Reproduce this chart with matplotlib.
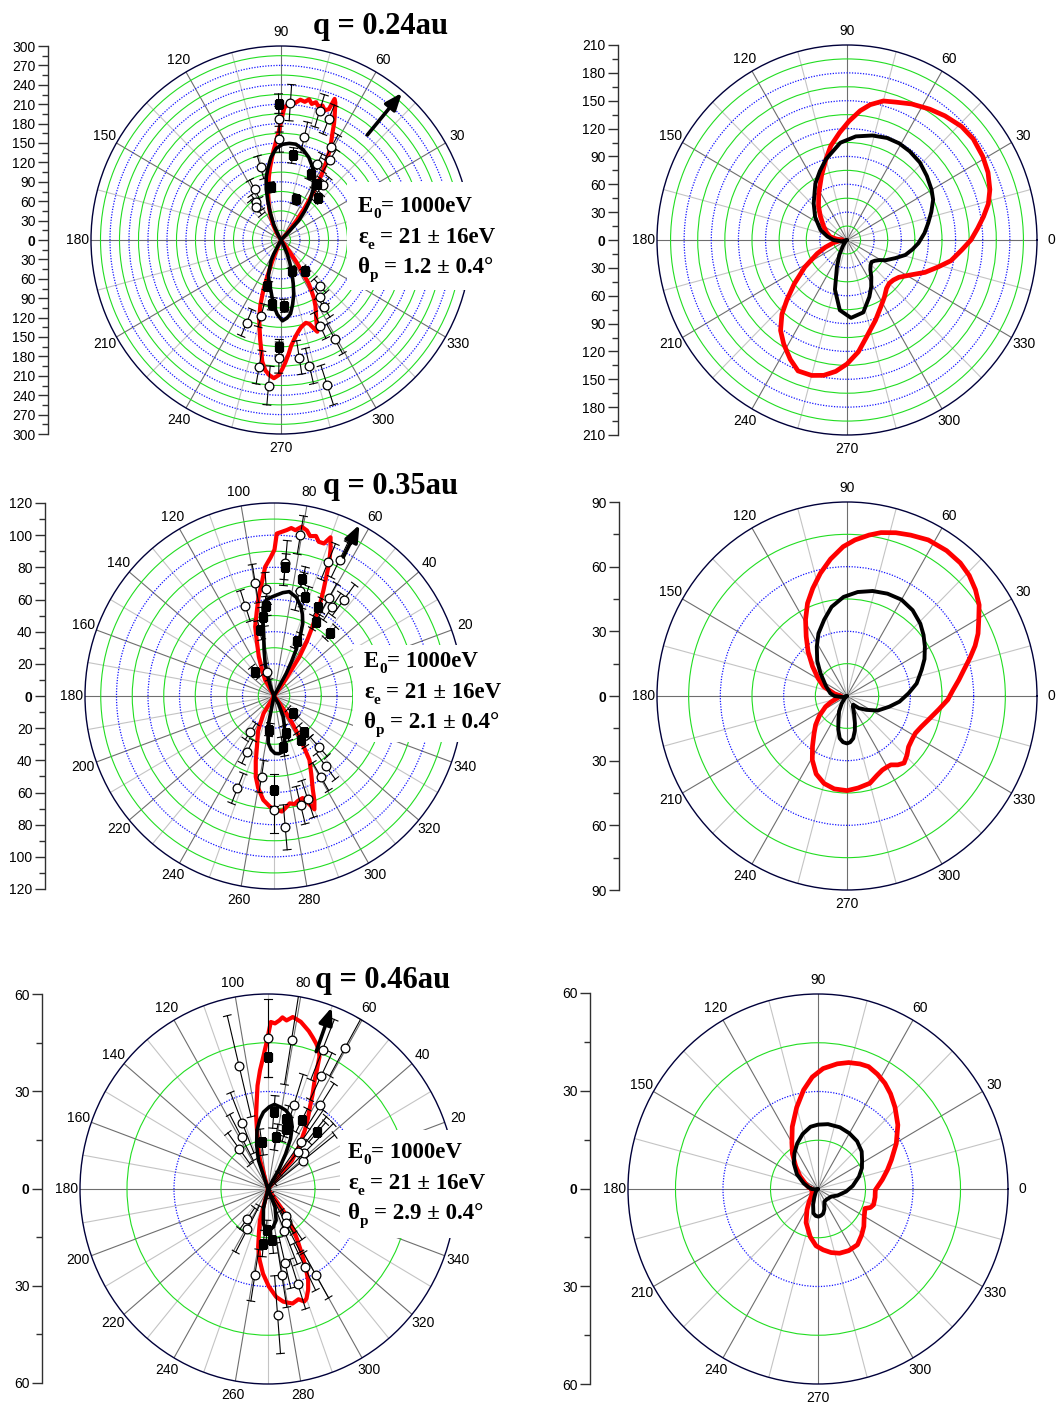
import numpy as np
import matplotlib
matplotlib.use("Agg")
import matplotlib.pyplot as plt
from matplotlib.patches import Rectangle

# ---- q = 0.24 au : measured (left) ----
a_red_th = [-118, -115, -113, -111, -110, -108, -106, -104, -102, -100.5, -99, -97, -95, -93, -91, -89.5, -88, -86,
            -84.5, -83, -81, -79, -77, -75, -73, -71, -69.5, -68, -67, -65.5, -64, -62, -60, -58.5, -57, -56, -54.5,
            -53, -51, -49,
            45, 47, 49, 51, 53, 55, 56.5, 58, 59.5, 61, 62.5, 64, 65, 66, 67, 68, 68.8, 69.5, 71, 72.5, 74, 75.5, 77,
            78.5, 80, 82, 84, 86, 87.5, 88.5, 89.5, 91, 93, 95, 97, 99, 101, 103, 105.5, 108, 111, 114, 118, 122, 126]
a_red_r = [0, 12, 35, 60, 80, 105, 125, 140, 158, 172, 190, 203, 210, 214, 209, 200, 190, 176, 165, 158, 150, 144, 139,
           136, 134, 137, 145, 153, 145, 134, 126, 116, 104, 92, 80, 62, 42, 22, 5, 0,
           0, 8, 22, 40, 62, 85, 105, 125, 142, 158, 172, 186, 198, 208, 218, 229, 234, 216, 212, 218, 215, 220, 216,
           222, 217, 219, 213, 214, 208, 205, 190, 170, 152, 138, 124, 112, 100, 88, 76, 64, 52, 40, 27, 13, 0]
a_blk_th = [-125, -118, -116, -110, -105, -101.5, -97, -93, -89, -85.5, -82.5, -79.5, -76.5, -74, -71.5, -68.5, -65.5,
            -62, -60,
            44, 46, 47, 50, 53, 57, 62, 66.5, 71, 76, 81, 85, 89, 93, 97, 100.5, 103.5, 106.5, 109, 112, 116, 120, 124]
a_blk_r = [0, 25, 36, 58, 72, 80, 100, 115, 125, 121, 115, 101, 86, 70, 55, 38, 24, 8, 0,
           0, 20, 41, 58, 76, 93, 110, 124, 135, 144, 150, 150, 148, 142, 129, 113, 100, 82, 64, 45, 25, 8, 0]
a_open_th = [91, 86, 73, 68, 77, 91, 61, 58, 64, 52, 106, 118, 124, 128,
             -113, -105, -100, -95, -91, -81, -77, -72, -65, -61, -57, -55, -49]
a_open_r = [187, 213, 209, 201, 163, 156, 164, 145, 130, 107, 117, 89, 70, 64,
            139, 121, 200, 226, 182, 184, 200, 236, 146, 175, 124, 108, 94]
a_open_err = [20, 28, 26, 24, 24, 20, 22, 20, 18, 16, 18, 16, 14, 14,
              22, 18, 26, 30, 24, 26, 28, 32, 22, 26, 18, 16, 14]
a_sq_th = [91, 82, 65, 57, 70, 101, 48, -98, -87, -70, -51, -91, -107]
a_sq_r = [211, 132, 113, 104, 67, 83, 88, 100, 102, 51, 61, 166, 74]
a_sq_err = [15, 12, 10, 10, 8, 8, 8, 10, 10, 6, 6, 12, 8]

# ---- q = 0.24 au : theory (right) ----
b_blk_th = [-150, -135, -126, -118, -111, -104, -96, -87, -77, -68, -62, -56, -51, -46, -41, -36, -31, -27, -20, -14,
            -8, -2.5, 5, 11.5, 18, 24.5, 30, 38, 46, 54, 61, 68, 76, 85, 94, 105, 112, 120, 133, 145,
            160, 170, 180, 195, 210]
b_blk_r = [0, 2, 7, 18, 31, 55, 76, 84, 80, 66, 57, 48, 41, 37.5, 36, 38, 42, 48, 57, 66.5,
           73, 79, 86, 91.6, 98, 104.6, 108, 112, 116, 118, 119, 118.5, 116, 112, 105, 90, 80, 70, 54, 43,
           31, 22, 15, 6, 0]
b_red_th = [-180, -169, -162, -156, -148, -141, -136, -132, -127, -122, -116, -111, -105, -100, -95, -90, -84, -78.5,
            -70, -62.5, -56, -50, -45, -40, -35, -28, -22, -16, -11, -5, 0, 5, 9.5, 14, 19, 25, 31, 38, 44, 51,
            57, 64, 70, 75, 80, 84, 89, 94, 100, 105, 112, 122, 131, 139, 150, 160, 169, 175, 180]
b_red_r = [5, 15, 25, 36, 55, 75, 92, 107.5, 122, 132, 143, 151, 151, 148, 142, 133.5, 121, 107,
           92, 81, 74, 68, 66, 67, 70, 80, 93, 105, 117, 127, 137, 145, 153, 161, 167, 172, 175, 177, 176, 172,
           168, 163, 158, 155, 148, 140, 128, 116, 103, 90, 75, 59, 48, 39, 30, 24, 19, 12, 5]

# ---- q = 0.35 au : measured ----
c_red_th = [-125, -121.5, -115, -109, -106, -103, -100, -96, -92, -88.5, -86, -84, -81.5, -79, -77, -74, -72, -70,
            -68.5, -67, -64, -60.5, -57.5, -55.5, -54, -51, -48,
            50, 53.5, 56.5, 58.5, 60.5, 62.5, 64.5, 66, 67, 68.5, 70, 71.5, 73.5, 75, 77, 78.5, 80.5, 82.5, 84, 85.5,
            87.5, 89, 89.8, 91.5, 94, 96.5, 99, 102, 105.5, 108, 111.5, 115, 119.5, 124]
c_red_r = [0, 12.7, 24, 33.3, 42, 51.5, 58, 65, 69, 71, 72, 70, 67.5, 68.5, 67, 66, 70, 75,
           70, 63, 54, 45.7, 30, 20, 13.3, 4, 0,
           0, 9.8, 29.3, 40, 49.6, 62, 73, 82, 89.5, 98, 105, 100, 100, 103, 102, 105, 106.7, 104, 105, 103.5,
           102, 101, 91, 86, 80.5, 70, 62.5, 53, 44.7, 35, 26.3, 18, 11.4, 0]
c_blk_th = [-110, -101.5, -99, -97, -93, -89, -85, -80.5, -77.5, -75, -70, -65.5, -60, -55,
            57, 61, 62.5, 64, 66, 68, 70.5, 73, 77, 81.5, 85, 88.5, 91.5, 94.5, 96.5, 98.5, 100, 102.5, 105.5, 108,
            112, 116]
c_blk_r = [0, 17.4, 24, 29.6, 33.5, 35.7, 36, 35.1, 31, 26.2, 19, 14.1, 6, 0,
           0, 16, 24, 32, 41, 48.7, 54, 58.2, 63, 65.6, 64.5, 62.8, 61.5, 60, 58, 48, 37.5, 29, 21, 13, 5, 0]
c_open_th = [80.5, 85, 67.6, 63.8, 99.6, 94.2, 108, 76, 60.3, 56.4, 53.5, 107,
             -124, -116, -99, -112, -90, -85, -76, -71.5, -48, -53, -59.4]
c_open_r = [101.5, 83, 90.4, 94.3, 71, 67, 59, 67, 70.4, 66.7, 74.2, 15.8,
            26.7, 38.6, 50.7, 62, 71, 82, 70, 67.5, 42.6, 54.8, 58.3]
c_open_err = [12, 14, 12, 12, 12, 10, 10, 12, 10, 10, 12, 5,
              6, 8, 10, 10, 14, 14, 12, 12, 8, 10, 10]
c_sq_th = [85, 76, 72, 95, 98, 102.5, 63.4, 60, 47.7, 66.8, 128, -90, -79.6, -71.3, -57.8, -49, -97.8, -42]
c_sq_r = [80.7, 74.7, 64.6, 56.2, 49.8, 42, 61.7, 53.3, 53.3, 37.4, 19.2, 58.5, 32, 24.5, 32.3, 29.4, 21.3, 16.2]
c_sq_err = [8, 8, 7, 6, 6, 6, 6, 5, 5, 5, 4, 10, 6, 5, 5, 5, 4, 4]

# ---- q = 0.35 au : theory ----
d_blk_th = [-150, -135, -126, -118, -110, -105, -100, -95, -90, -86, -81.5, -77, -73.5, -68, -60, -54, -45, -35, -25,
            -14, -6, 2.5, 10, 19, 25, 32, 38, 44, 52, 60, 68, 76, 84, 92, 100, 107, 115, 122, 131, 140,
            155, 171, 180, 195, 210]
d_blk_r = [0, 1.5, 4.2, 8, 11.8, 16, 19.9, 21.5, 22, 21.5, 19.9, 16.5, 13.2, 9, 5.5, 5, 8, 11.2, 16,
           20.6, 25, 29.2, 33.5, 37.4, 40.5, 43.5, 46, 48.3, 50.5, 51.6, 51.2, 50.2, 48.5, 46, 42, 37, 32, 27, 21.5,
           16.4, 11, 8, 6, 2, 0]
d_red_th = [-180, -167, -160, -154, -145, -138, -132, -125, -119, -112, -105, -98, -90, -83, -75, -69, -64, -60, -57,
            -53, -49, -44, -39, -33, -28, -22, -16, -8, -2, 3, 8, 12.5, 17, 21, 25, 29.5, 34, 39, 44, 49,
            55, 62, 68, 73, 78, 82, 87, 91.5, 97, 102.5, 108, 113.5, 119, 125, 132, 140, 149, 158.5, 170, 180]
d_red_r = [3, 5, 8, 11.3, 16, 20, 23.3, 28.5, 33.9, 39, 42, 43.5, 43.9, 43, 41.9, 39.5, 38.2, 38, 38.1,
           40, 41.2, 39.5, 37.5, 36.8, 36.7, 38, 40.1, 44, 47.8, 50.2, 53.5, 56.8, 61, 65, 68.5, 71.7, 75.5, 78.3,
           80.5, 81.8, 82.3, 82, 80.5, 79.2, 77.5, 75.4, 72.5, 69.3, 64, 58.3, 52.5, 46.9, 40.5, 33.7, 27.5, 21.3,
           16, 11.8, 6, 3]

# ---- q = 0.46 au : measured ----
e_red_th = [-112, -105, -102, -100, -97, -93.5, -89.5, -85.5, -82, -77.5, -74, -71.5, -70, -67.5, -65.5, -63.5, -61.5,
            -59, -56.5, -54, -51,
            44, 49, 53, 57, 59.5, 62, 64, 66, 67, 68, 69, 71, 73, 75, 76.5, 78.5, 80, 81.5, 83.5, 85, 86, 87.5, 89,
            89.8, 90.7, 92, 94, 96, 97.5, 99.5, 101, 104, 106, 111]
e_red_r = [0, 10, 14, 18.1, 22, 26.1, 30, 33.3, 35, 36.1, 35.3, 36.5, 35.9, 33.5, 30.9, 27, 22.6, 18, 14, 8, 0,
           0, 11.7, 16.5, 21.6, 25, 28.5, 32.5, 36.6, 40, 43.8, 45.5, 47.3, 48.8, 50.3, 51.2, 52.5, 53, 53.5, 52.2,
           53, 52, 51, 51.4, 48, 44.7, 41, 36.6, 32, 27.5, 23, 18.4, 13, 9.2, 0]
e_blk_th = [-112, -104, -98, -92, -87.5, -82, -75, -68, -60,
            57, 60, 62.5, 65, 68, 72, 77, 81, 85.5, 89, 93.5, 97, 101, 105, 109, 115]
e_blk_r = [0, 6, 10.8, 12.5, 12.7, 11.8, 10, 6, 0,
           0, 7, 12.2, 17, 20.6, 23.5, 24.9, 25.5, 26.1, 25.3, 23.7, 21.5, 18.4, 14, 9.3, 0]
e_open_th = [90, 80.7, 103.7, 67.9, 60.5, 64, 57, 72.3, 126.6, -126, -99, -85.5, -76.6, -80.6, -72, -60, -64, -59,
             38, 44, 50, 54, 118, 112, -55, -62, -68, -118]
e_open_r = [46.6, 46.6, 38.9, 46.3, 50, 38.6, 30.7, 27, 15.5, 11.3, 26.9, 38.8, 23.4, 26.9, 30.8, 30.7, 26.7, 11.9,
            14, 16, 15, 18, 18, 22, 10, 12, 14, 14]
e_open_err = [12, 14, 16, 10, 10, 8, 8, 10, 6, 4, 8, 12, 8, 10, 8, 8, 8, 4,
              13, 13, 14, 12, 8, 10, 9, 10, 11, 8]
e_sq_th = [90, 85.5, 98, 81, 73, 63, 48, 75.4, -95, -85, -92]
e_sq_r = [40.6, 23.8, 14.6, 16.2, 19.4, 23.7, 23.5, 22.4, 16.9, 15.9, 12.7]
e_sq_err = [6, 5, 4, 4, 4, 4, 4, 4, 4, 4, 3]

# ---- q = 0.46 au : theory ----
f_blk_th = [-150, -130, -115.5, -108, -101, -95, -89, -83, -77.5, -72, -63, -50, -40, -29, -18, -5, 5, 16.5, 25, 32.5,
            40, 50, 60, 70, 81, 90, 97, 106, 115, 124, 134, 146, 159, 170, 180, 195, 210]
f_blk_r = [0, 1, 2.6, 5, 7.6, 8.3, 8.5, 8.2, 7.7, 6.5, 4.4, 4.2, 4.4, 4.8, 6.5, 8.9, 11, 13.5, 15.3, 16.5,
           18, 19.2, 19.8, 20.2, 20.2, 19.8, 19.3, 17.6, 15.5, 13.3, 11, 8, 4.8, 3, 2, 0.5, 0]
f_red_th = [-180, -160, -136.5, -125, -118.5, -110, -99.5, -92, -85, -78, -71, -63, -54, -46, -38.5, -31, -22, -19,
            -15.5, -8, -1, 8, 15, 21, 29.5, 38, 46, 52, 57, 62, 67, 71, 76, 81, 87.5, 93, 98.5, 105, 113, 120,
            126.5, 135, 145, 160, 170, 180]
f_red_r = [2, 2, 2.7, 5, 7.3, 11, 14.9, 17.5, 18.8, 20, 20.9, 21.3, 21.2, 19.8, 18.5, 17, 16, 17.5,
           18.2, 18.2, 18.1, 20.5, 22.7, 24.8, 28.4, 32, 35, 37.2, 38.8, 40, 40.9, 40.7, 40.1, 39, 37.1, 34.5, 30.8,
           26, 20.8, 16.5, 13.6, 10, 7, 4, 3, 2]

titles = ["q = 0.24au", "q = 0.35au", "q = 0.46au"]
theta_p = ["1.2", "2.1", "2.9"]

W, H = 1062, 1416
plt.rcParams['font.family'] = 'Liberation Sans'
fig = plt.figure(figsize=(W / 100, H / 100), dpi=100)


def fx(x):
    return x / W


def fy(y):
    return 1 - y / H


def polar_panel(cx, cy, rx, ry, vmax, ring, spoke, lab, zero_label=True):
    ax = fig.add_axes([fx(cx - rx), fy(cy + ry), 2 * rx / W, 2 * ry / H], projection='polar')
    ax.set_aspect('auto')
    ax.set_ylim(0, vmax)
    ax.set_yticks(np.arange(ring, vmax, ring))
    ax.set_yticklabels([])
    spokes = np.arange(0, 360, spoke)
    ax.set_xticks(np.deg2rad(spokes))
    labels = []
    for a in spokes:
        if a % lab == 0 and (a != 0 or zero_label):
            labels.append(str(a))
        else:
            labels.append('')
    ax.set_xticklabels(labels, fontsize=10)
    ax.grid(True)
    for k, gl in enumerate(ax.yaxis.get_gridlines()):
        if k % 2 == 0:
            gl.set(color='#22dd22', ls='-', lw=0.8)
        else:
            gl.set(color='#1515ff', ls=(0, (1, 1.2)), lw=0.9)
    for a, gl in zip(spokes, ax.xaxis.get_gridlines()):
        gl.set(color='#6e6e6e' if a % lab == 0 else '#c4c4c4', ls='-', lw=0.8)
    ax.spines['polar'].set(color='#00003a', lw=1.0)
    ax.tick_params(axis='x', pad=3, length=3, direction='in', color='#202040')
    ax.tick_params(axis='y', length=0)
    ax.px_per_unit = ry / vmax
    return ax


def side_axis(x, top, bot, vmax, major):
    ax = fig.add_axes([fx(x), fy(bot), 0.0005, (bot - top) / H])
    ax.patch.set_visible(False)
    for s in ['top', 'right', 'bottom']:
        ax.spines[s].set_visible(False)
    ax.spines['left'].set(color='#303030', lw=1.0)
    ax.set_xticks([])
    ax.set_ylim(-vmax, vmax)
    ticks = np.arange(-vmax, vmax + 1, major)
    ax.set_yticks(ticks)
    ax.set_yticklabels([f'{abs(t):g}' for t in ticks], fontsize=10)
    ax.set_yticks(np.arange(-vmax, vmax + 1, major / 2), minor=True)
    ax.tick_params(axis='y', which='major', length=7, width=1, direction='out', pad=2, color='#303030')
    ax.tick_params(axis='y', which='minor', length=4, width=1, direction='out', color='#303030')
    for t, lbl in zip(ticks, ax.get_yticklabels()):
        if t == 0:
            lbl.set_fontweight('bold')
    return ax


def curve(ax, th, r, color, lw):
    ax.plot(np.deg2rad(th), r, color=color, lw=lw, solid_joinstyle='round', solid_capstyle='round', zorder=4)


def points(ax, th, r, err, marker, face, cap_px=4.0):
    # radial error bars with caps drawn square to the radius
    t = np.deg2rad(th)
    for ti, ri, ei in zip(t, r, err):
        lo, hi = max(ri - ei, 0.0), ri + ei
        ax.plot([ti, ti], [lo, hi], color='black', lw=0.8, zorder=5)
        for rc in (lo, hi):
            if rc > 0:
                half = cap_px / (rc * ax.px_per_unit)
                ax.plot([ti - half, ti + half], [rc, rc], color='black', lw=0.8, zorder=5)
    ax.plot(t, r, ls='none', marker=marker, ms=6.3, mfc=face, mec='black', mew=0.9, zorder=6)


def arrow(ax, ang, r0, r1):
    ax.annotate('', xy=(np.deg2rad(ang), r1), xytext=(np.deg2rad(ang), r0),
                arrowprops=dict(arrowstyle='-|>,head_length=1.0,head_width=0.4', color='black', lw=2.6,
                                shrinkA=0, shrinkB=0),
                zorder=6)


renderer = fig.canvas.get_renderer()


def rich(x, y, parts):
    # parts: (text, size, drop in px, gap after in px)
    for s, size, drop, gap in parts:
        t = fig.text(fx(x), fy(y + drop), s, fontsize=size, fontweight='bold', family='Liberation Serif',
                     va='baseline', ha='left', zorder=7)
        x += t.get_window_extent(renderer).width + gap


def info_box(x0, y0, x1, y1, tx, base, tp):
    fig.add_artist(Rectangle((fx(x0), fy(y1)), (x1 - x0) / W, (y1 - y0) / H, transform=fig.transFigure,
                             fc='white', ec='none', zorder=6))
    rich(tx, base, [("E", 16.5, 0, 0), ("0", 11, 6, 0), ("= 1000eV", 16.5, 0, 0)])
    rich(tx, base + 31, [("\u03b5", 16.5, 0, 0), ("e", 11, 6, 6), ("= 21 \u00b1 16eV", 16.5, 0, 0)])
    rich(tx, base + 61, [("\u03b8", 16.5, 0, 0), ("p", 11, 6, 6), ("= " + tp + " \u00b1 0.4\u00b0", 16.5, 0, 0)])


# top row
ax1 = polar_panel(281, 240, 190, 194, 300, 15, 15, 30, zero_label=False)
side_axis(48, 46, 434, 300, 30)
curve(ax1, a_red_th, a_red_r, 'red', 3.0)
curve(ax1, a_blk_th, a_blk_r, 'black', 2.6)
points(ax1, a_open_th, a_open_r, a_open_err, 'o', 'white')
points(ax1, a_sq_th, a_sq_r, a_sq_err, 's', 'black')
arrow(ax1, 50, 212, 297)

ax2 = polar_panel(847, 240, 190, 195, 210, 15, 15, 30)
side_axis(618, 45, 435, 210, 30)
curve(ax2, b_red_th, b_red_r, 'red', 3.4)
curve(ax2, b_blk_th, b_blk_r, 'black', 2.8)

# middle row
ax3 = polar_panel(274, 696, 189, 193, 120, 10, 10, 20, zero_label=False)
side_axis(45, 503, 889, 120, 20)
curve(ax3, c_red_th, c_red_r, 'red', 3.0)
curve(ax3, c_blk_th, c_blk_r, 'black', 2.6)
points(ax3, c_open_th, c_open_r, c_open_err, 'o', 'white')
points(ax3, c_sq_th, c_sq_r, c_sq_err, 's', 'black')
arrow(ax3, 63, 97, 119.5)

ax4 = polar_panel(847, 696, 190, 194, 90, 15, 15, 30)
side_axis(619, 502, 890, 90, 30)
curve(ax4, d_red_th, d_red_r, 'red', 3.4)
curve(ax4, d_blk_th, d_blk_r, 'black', 2.8)

# bottom row
ax5 = polar_panel(268, 1189, 188, 195, 60, 15, 10, 20, zero_label=False)
side_axis(42, 994, 1383, 60, 30)
curve(ax5, e_red_th, e_red_r, 'red', 3.0)
curve(ax5, e_blk_th, e_blk_r, 'black', 2.6)
points(ax5, e_open_th, e_open_r, e_open_err, 'o', 'white')
points(ax5, e_sq_th, e_sq_r, e_sq_err, 's', 'black')
arrow(ax5, 70, 45, 59.5)

ax6 = polar_panel(818, 1189, 190, 195, 60, 15, 15, 30)
side_axis(590, 993, 1384, 60, 30)
curve(ax6, f_red_th, f_red_r, 'red', 3.4)
curve(ax6, f_blk_th, f_blk_r, 'black', 2.8)

# labels on the measured panels
for (tx, ty), title in zip([(313, 34), (323, 494), (315, 988)], titles):
    fig.text(fx(tx), fy(ty), title, fontsize=22, fontweight='bold', family='Liberation Serif',
             va='baseline', ha='left', zorder=7)

info_box(347, 182, 520, 290, 358, 212, theta_p[0])
info_box(353, 645, 520, 742, 364, 667, theta_p[1])
info_box(340, 1130, 520, 1238, 348, 1158, theta_p[2])

fig.savefig('out.png', dpi=100, facecolor='white')
